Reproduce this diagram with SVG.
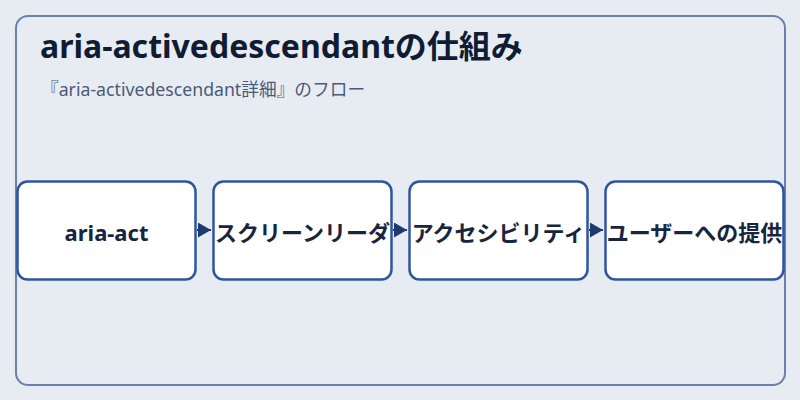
<svg xmlns="http://www.w3.org/2000/svg" width="800" height="400" viewBox="0 0 800 400">
<defs>
<style>
.frame{fill:#e7ecf2;stroke:#6b80ae;stroke-width:2}
.node rect{fill:#ffffff;stroke:#2f55a0;stroke-width:2.5}
.node text{font-family:"Noto Sans","Noto Sans CJK JP",sans-serif;font-weight:700;font-size:22px;fill:#172540;text-anchor:middle;dominant-baseline:central}
.title{font-family:"Noto Sans","Noto Sans CJK JP",sans-serif;font-weight:700;font-size:32px;fill:#0f1c33}
.sub{font-family:"Noto Sans","Noto Sans CJK JP",sans-serif;font-size:17.7px;fill:#4b5a78}
.conn{stroke:#1e3a70;stroke-width:2;fill:none}
</style>
<marker id="arr" viewBox="0 0 10 10" refX="10" refY="5" markerWidth="13" markerHeight="15" markerUnits="userSpaceOnUse" orient="auto" preserveAspectRatio="none">
<path d="M0,0 L10,5 L0,10 Z" fill="#1e3a70"/>
</marker>
</defs>
<rect width="800" height="400" fill="#e7ecf2"/>
<rect class="frame" x="16" y="16" width="769" height="369" rx="12"/>
<text class="title" x="40" y="58">aria-activedescendantの仕組み</text>
<text class="sub" x="41" y="96">『aria-activedescendant詳細』のフロー</text>
<g id="connectors">
<path class="conn" d="M197,230 L211,230" marker-end="url(#arr)"/>
<path class="conn" d="M393,230 L407,230" marker-end="url(#arr)"/>
<path class="conn" d="M589,230 L603,230" marker-end="url(#arr)"/>
</g>
<g id="node1" class="node">
<rect x="17.5" y="181.5" width="178" height="98" rx="10"/>
<text x="106.5" y="232">aria-act</text>
</g>
<g id="node2" class="node">
<rect x="213.5" y="181.5" width="178" height="98" rx="10"/>
<text x="302.5" y="232">スクリーンリーダ</text>
</g>
<g id="node3" class="node">
<rect x="409.5" y="181.5" width="178" height="98" rx="10"/>
<text x="498.5" y="232">アクセシビリティ</text>
</g>
<g id="node4" class="node">
<rect x="605.5" y="181.5" width="178" height="98" rx="10"/>
<text x="694.5" y="232">ユーザーへの提供</text>
</g>
</svg>
